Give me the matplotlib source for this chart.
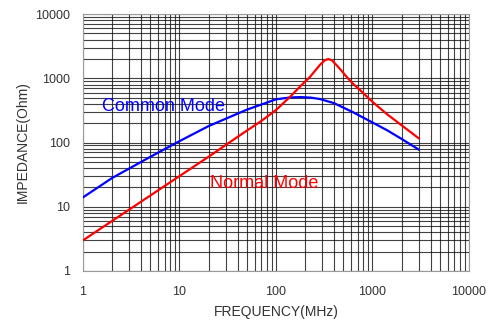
import matplotlib
matplotlib.use("Agg")
import matplotlib.pyplot as plt
from matplotlib.ticker import LogLocator, FixedLocator, NullFormatter

plt.rcParams['font.family'] = ['Liberation Sans', 'DejaVu Sans']

# impedance curves, read at selected frequencies (MHz -> Ohm)
cm_freq = [1, 2, 5, 10, 20, 50, 100, 140, 180, 230, 286, 400, 630, 1000, 1410, 2000, 3000]
cm_imp = [14, 28, 60, 105, 180, 325, 470, 503, 510, 500, 475, 410, 296, 205, 156, 114, 78]

nm_freq = [1, 2, 5, 10, 20, 45, 70, 100, 140, 177, 225, 286, 320, 348, 380,
           425, 480, 540, 630, 740, 1000, 1410, 2000, 3000]
nm_imp = [3.0, 6.0, 15, 30, 60, 138, 215, 320, 515, 740, 1050, 1620, 1900, 2000, 1900,
          1600, 1300, 1050, 820, 660, 430, 277, 186, 117]

decades = [1, 10, 100, 1000, 10000]
decade_labels = ['1', '10', '100', '1000', '10000']

fig = plt.figure(figsize=(5.02, 3.27), dpi=100)
ax = fig.add_axes([0.1653, 0.1713, 0.7689, 0.7857])

ax.plot(cm_freq, cm_imp, color='#0000ff', lw=1.6, zorder=3)
ax.plot(nm_freq, nm_imp, color='#ff0000', lw=1.6, zorder=3)

ax.set_xscale('log')
ax.set_yscale('log')
ax.set_xlim(1, 10000)
ax.set_ylim(1, 10000)

for axis in (ax.xaxis, ax.yaxis):
    axis.set_major_locator(FixedLocator(decades))
    axis.set_minor_locator(LogLocator(base=10, subs=range(2, 10)))
    axis.set_minor_formatter(NullFormatter())
ax.set_xticklabels(decade_labels)
ax.set_yticklabels(decade_labels)

ax.grid(True, which='both', color='#111111', lw=0.8, alpha=0.8)
ax.tick_params(which='both', length=0, labelsize=9, labelcolor='#333333')
ax.tick_params(axis='x', pad=11)
ax.tick_params(axis='y', pad=9)
for sp in ax.spines.values():
    sp.set_color('#9a9a9a')
    sp.set_linewidth(0.8)

ax.set_xlabel('FREQUENCY(MHz)', fontsize=10, color='#333333', labelpad=5)
ax.set_ylabel('IMPEDANCE(Ohm)', fontsize=10, color='#333333', labelpad=4)

ax.text(1.57, 370, 'Common Mode', color='#0000ff', fontsize=13, va='center', ha='left')
ax.text(20.7, 23.4, 'Normal Mode', color='#ff0000', fontsize=13, va='center', ha='left')

fig.savefig('out.png', dpi=100)
